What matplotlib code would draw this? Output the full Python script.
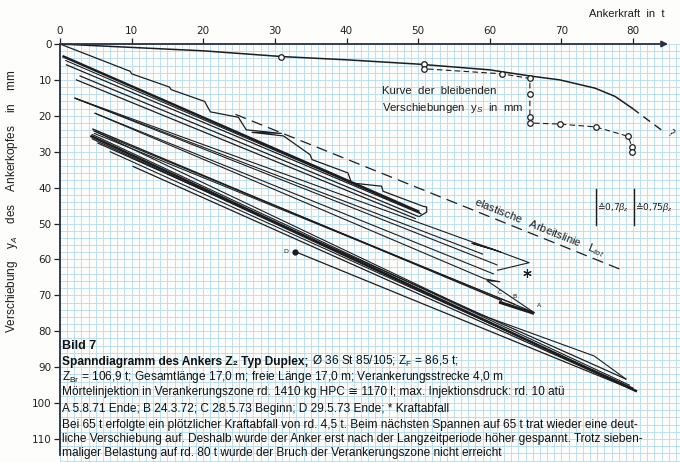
import matplotlib.pyplot as plt
import numpy as np

plt.rcParams['mathtext.fontset'] = 'custom'
plt.rcParams['mathtext.rm'] = 'Liberation Sans'
plt.rcParams['mathtext.it'] = 'Liberation Sans:italic'
plt.rcParams['mathtext.bf'] = 'Liberation Sans:bold'

CAP_FONT = ['Liberation Sans', 'DejaVu Sans']
INK = '#1d1d1f'
GRID = '#b3dbee'

# Ankerkraft (t) / Verschiebung (mm)
x_ticks = [0, 10, 20, 30, 40, 50, 60, 70, 80]
y_ticks = [0, 10, 20, 30, 40, 50, 60, 70, 80, 90, 100, 110]

# envelope curve at the top
top_x = [0, 20, 31, 40, 50, 60, 65.6, 69.8, 74.7, 77.5, 79.9]
top_y = [0, 1.9, 3.5, 4.4, 5.6, 7.2, 8.9, 10.0, 12.3, 14.6, 17.9]
top_dash_x = [79.9, 81.7, 83.6, 84.3]
top_dash_y = [17.9, 20.6, 23.4, 24.4]

# bleibende Verschiebungen y_S
ys_x = [30.9, 50.8, 50.8, 61.7, 65.6, 65.6, 65.6, 65.6, 69.8, 74.8, 79.3, 79.9, 79.9]
ys_y = [3.5, 5.6, 6.9, 8.3, 9.6, 14.0, 20.2, 22.0, 22.3, 23.1, 25.7, 28.8, 30.2]

# first loading with creep steps, ends with hook at 51 t
first_x = [0, 9.8, 10.0, 15.3, 15.5, 20.2, 20.6, 21.0, 24.9, 26.0, 30.9, 26.8, 31.2,
           34.9, 35.2, 40.2, 40.7, 44.9, 45.1, 50.7, 51.2, 51.2, 50.2]
first_y = [0, 7.6, 8.3, 12.0, 12.7, 16.0, 17.5, 18.9, 20.4, 23.9, 24.9, 24.6, 25.6,
           30.8, 32.2, 35.9, 38.7, 39.6, 41.0, 45.2, 45.4, 46.8, 48.0]

# loading to 65 t with Kraftabfall (*)
drop_x = [2.1, 56.0, 61.5, 57.5, 60.5, 65.5, 61.1]
drop_y = [15.1, 54.0, 57.9, 55.5, 57.2, 60.9, 63.0]

# next loading to 65 t, large displacement
creep_x = [4.9, 59.3, 61.4, 59.6, 66.2]
creep_y = [19.3, 65.4, 66.2, 65.9, 74.8]

# 80 t cycle that bends near the top
bend_x = [5.0, 58.6, 74.6, 79.0]
bend_y = [24.4, 75.3, 86.9, 93.3]

# straight load / unload lines: start -> peak
cyc_x0 = [0.5, 0.8, 0.9, 2.8, 2.3, 2.1, 2.1, 4.9,
          4.6, 4.7, 4.8, 4.4, 4.5, 4.5, 5.3, 7.0, 10.2, 32.8]
cyc_y0 = [3.5, 4.6, 5.8, 8.9, 10.0, 15.1, 15.1, 19.3,
          23.7, 24.2, 24.9, 25.7, 26.4, 25.2, 27.6, 30.0, 34.1, 57.8]
cyc_x1 = [50.0, 50.2, 50.4, 50.0, 49.6, 59.0, 61.0, 60.5,
          61.6, 66.0, 63.4, 80.4, 80.4, 79.5, 79.0, 80.0, 80.4, 80.4]
cyc_y1 = [46.6, 46.9, 47.3, 48.0, 48.6, 58.5, 61.5, 64.0,
          71.4, 74.6, 72.4, 96.6, 96.6, 95.0, 93.3, 95.8, 96.6, 96.6]
cyc_w = [1.8, 0.8, 0.9, 0.9, 0.9, 0.8, 0.8, 0.8,
         1.0, 0.8, 0.8, 1.8, 0.9, 0.8, 0.9, 0.8, 0.9, 0.9]

# elastische Arbeitslinie L_tot
elast_x = [24.5, 78.3]
elast_y = [19.6, 62.8]

caption = [
    "Z$_{\\mathregular{Br}}$ = 106,9 t; Gesamtlänge 17,0 m; freie Länge 17,0 m; Verankerungsstrecke 4,0 m",
    "Mörtelinjektion in Verankerungszone rd. 1410 kg HPC \u2245 1170 l; max. Injektionsdruck: rd. 10 atü",
    "A 5.8.71 Ende; B 24.3.72; C 28.5.73 Beginn; D 29.5.73 Ende; * Kraftabfall",
    "Bei 65 t erfolgte ein plötzlicher Kraftabfall von rd. 4,5 t. Beim nächsten Spannen auf 65 t trat wieder eine deut-",
    "liche Verschiebung auf. Deshalb wurde der Anker erst nach der Langzeitperiode höher gespannt. Trotz sieben-",
    "maliger Belastung auf rd. 80 t wurde der Bruch der Verankerungszone nicht erreicht",
]
caption_py = [377, 392.5, 409, 425, 438.8, 453]

W, H = 680, 462
fig = plt.figure(figsize=(W / 100, H / 100), dpi=100)
fig.patch.set_facecolor('#fdfdfb')
ax = fig.add_axes([60 / W, 0, 620 / W, 418 / H])
ax.set_facecolor('#fdfdfb')
ax.set_xlim(0, 620 / 7.1625)
ax.set_ylim(418 / 3.591, 0)

# millimetre paper
ax.set_xticks(np.arange(0, 87, 1), minor=True)
ax.set_yticks(np.arange(0, 117, 2), minor=True)
ax.set_xticks(x_ticks)
ax.set_yticks(y_ticks)
ax.grid(which='both', color=GRID, lw=0.6)
ax.set_axisbelow(True)
ax.xaxis.tick_top()
ax.tick_params(which='minor', length=0)
ax.tick_params(which='major', length=4, width=0.9, colors='#222', labelsize=7.5, pad=2)
for s in ['top', 'right', 'bottom']:
    ax.spines[s].set_visible(False)
ax.spines['left'].set_color('#25304a')
ax.spines['left'].set_linewidth(1.3)
ax.spines['left'].set_bounds(0, 114.5)
ax.annotate('', xy=(84.9, 0), xytext=(0, 0), annotation_clip=False,
            arrowprops=dict(arrowstyle='-|>', color='#25304a', lw=1.3, mutation_scale=9,
                            shrinkA=0, shrinkB=0))

# curves
ax.plot(top_x, top_y, color=INK, lw=1.1)
ax.plot(top_dash_x, top_dash_y, color=INK, lw=1.0, ls=(0, (6, 4)))
ax.text(85.2, 24.9, '?', fontsize=7, rotation=-40, ha='center', va='center', color=INK)
ax.plot(ys_x[1:], ys_y[1:], color=INK, lw=0.8, ls=(0, (5, 3)))
ax.plot(ys_x, ys_y, ls='none', marker='o', ms=4, mfc='white', mec=INK, mew=0.9)

for x0, y0, x1, y1, w in zip(cyc_x0, cyc_y0, cyc_x1, cyc_y1, cyc_w):
    ax.plot([x0, x1], [y0, y1], color=INK, lw=w)
ax.plot(first_x, first_y, color=INK, lw=0.9)
ax.plot(drop_x, drop_y, color=INK, lw=0.8)
ax.plot(creep_x, creep_y, color=INK, lw=0.8)
ax.plot(bend_x, bend_y, color=INK, lw=0.8)
ax.plot(elast_x, elast_y, color=INK, lw=0.9, ls=(0, (9, 5)))

# markers on the diagram
ax.plot([32.8], [57.8], 'o', color=INK, ms=3.5)
ax.text(31.9, 57.8, 'D', fontsize=4.5, ha='right', va='center', color=INK)
ax.plot([61.5, 66.0], [72.0, 74.9], color=INK, lw=2.2)
ax.text(61.4, 70.0, 'C', fontsize=4.5, ha='center', va='bottom', color=INK)
ax.text(63.5, 71.0, 'B', fontsize=4.5, ha='center', va='bottom', color=INK)
ax.text(66.6, 73.6, 'A', fontsize=4.5, ha='left', va='bottom', color=INK)
ax.plot([65.2], [63.9], marker=(6, 2, 0), ms=6, color=INK, mew=0.8)

ax.plot([74.8, 74.8], [40.3, 50.3], color=INK, lw=1.0)
ax.plot([80.1, 80.1], [40.3, 50.3], color=INK, lw=1.0)
ax.text(75.0, 45.3, '\u22590,7$\\beta_z$', fontsize=6.5, family=['DejaVu Sans'], va='center', color=INK)
ax.text(80.3, 45.3, '\u22590,75$\\beta_z$', fontsize=6.5, family=['DejaVu Sans'], va='center', color=INK)

ax.text(44.96, 13.1, 'Kurve  der  bleibenden', fontsize=8.2, family=CAP_FONT, va='center', color=INK)
ax.text(44.96, 17.8, 'Verschiebungen  y$_S$  in  mm', fontsize=8.2, family=CAP_FONT, va='center', color=INK)
ax.text(66.9, 51.2, 'elastische   Arbeitslinie   L$_{tot}$', fontsize=8, family=CAP_FONT,
        rotation=-21.9, rotation_mode='anchor', ha='center', va='center', color=INK)

# axis titles
fig.text(627 / W, 1 - 14 / H, 'Ankerkraft  in  t', fontsize=8, family=CAP_FONT,
         ha='center', va='center', color=INK)
fig.text(12 / W, 1 - 201.5 / H, 'Verschiebung    y$_A$    des    Ankerkopfes    in    mm',
         fontsize=8.5, family=CAP_FONT, rotation=90, ha='center', va='center', color=INK)

# caption block
fig.text(62 / W, 1 - 346 / H, 'Bild 7', fontsize=9, fontweight='bold', family=CAP_FONT,
         va='center', color='#111')
bold = fig.text(62 / W, 1 - 361.5 / H, 'Spanndiagramm des Ankers Z\u2082 Typ Duplex;',
                fontsize=8.6, fontweight='bold', family=CAP_FONT, va='center', color='#111')
r = fig.canvas.get_renderer()
bb = bold.get_window_extent(r)
fig.text((bb.x1 + 3) / W, 1 - 361.5 / H,
         'Ø 36 St 85/105; Z$_{\\mathregular{F}}$ = 86,5 t;',
         fontsize=8.6, family=CAP_FONT, va='center', color='#111')
for line, py in zip(caption, caption_py):
    fig.text(62 / W, 1 - py / H, line, fontsize=8.6, family=CAP_FONT, va='center', color='#111')

fig.savefig('out.png', dpi=100, facecolor=fig.get_facecolor())
